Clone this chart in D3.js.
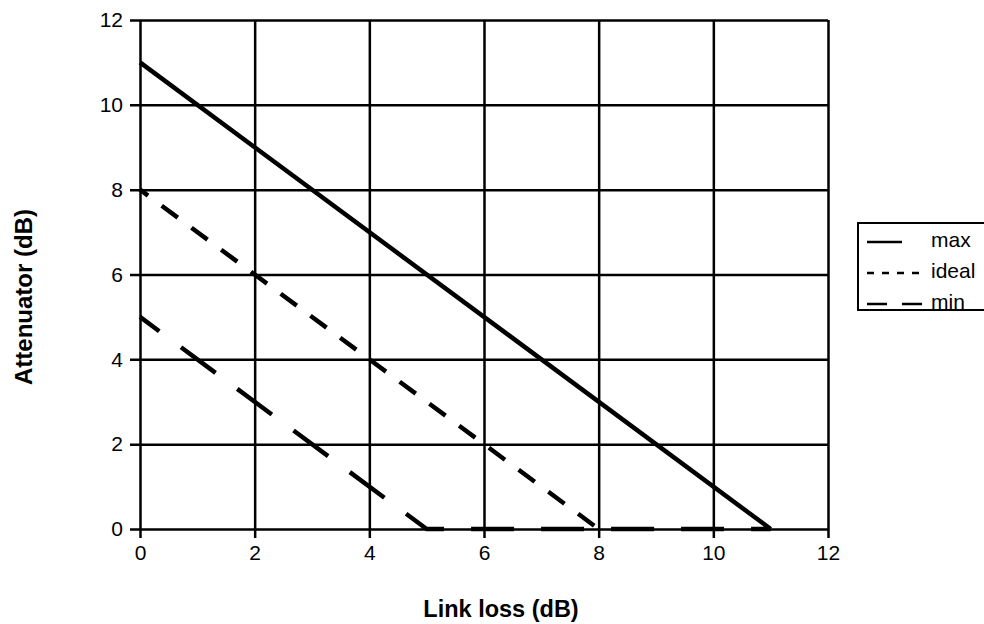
<!DOCTYPE html>
<html>
<head>
<meta charset="utf-8">
<script src="https://cdn.jsdelivr.net/npm/d3@7"></script>
<style>
	body { margin: 0; background: #fff; }
	svg { font-family: "Liberation Sans", Arial, sans-serif; }
</style>
</head>
<body>
<div id="chart"></div>
<script>
// data
const xTicks = [0, 2, 4, 6, 8, 10, 12];
const yTicks = [0, 2, 4, 6, 8, 10, 12];
const maxLine = [[0, 11], [11, 0]];
const idealLine = [[0, 8], [8, 0]];
const minLine = [[0, 5], [5, 0], [11, 0]];
const seriesNames = ["max", "ideal", "min"];

const width = 984, height = 624;
const margin = { left: 140, top: 20, right: 156, bottom: 95 };
const w = width - margin.left - margin.right;
const h = height - margin.top - margin.bottom;

const svg = d3.select("#chart")
	.append("svg")
	.attr("width", width)
	.attr("height", height);

const g = svg.append("g").attr("transform", `translate(${margin.left},${margin.top})`);

const xScale = d3.scaleLinear().domain([0, 12]).range([0, w]);
const yScale = d3.scaleLinear().domain([0, 12]).range([h, 0]);

// x axis: tick lines run all the way up and form the grid
const xAxis = d3.axisBottom(xScale).tickValues(xTicks).tickSize(-(h + 9)).tickPadding(7);
g.append("g")
	.attr("transform", `translate(0,${h + 9})`)
	.call(xAxis)
	.call((a) => a.select(".domain").remove());

const yAxis = d3.axisLeft(yScale).tickValues(yTicks).tickSize(-(w + 10)).tickPadding(7);
g.append("g")
	.attr("transform", "translate(-10,0)")
	.call(yAxis)
	.call((a) => a.select(".domain").remove());

g.selectAll(".tick line").attr("stroke", "#000").attr("stroke-width", 2.5);
g.selectAll(".tick text")
	.attr("fill", "#000")
	.attr("font-family", "'Liberation Sans', Arial, sans-serif")
	.attr("font-size", 21);

const line = d3.line()
	.x((d) => xScale(d[0]))
	.y((d) => yScale(d[1]));

const series = [
	{ data: maxLine, dash: null, offset: 0 },
	{ data: idealLine, dash: "20,17", offset: 10 },
	{ data: minLine, dash: "43,27", offset: 19 },
];

g.selectAll(".series")
	.data(series)
	.enter()
	.append("path")
	.attr("class", "series")
	.attr("d", (d) => line(d.data))
	.attr("fill", "none")
	.attr("stroke", "#000")
	.attr("stroke-width", 4.5)
	.attr("stroke-dasharray", (d) => d.dash)
	.attr("stroke-dashoffset", (d) => d.offset);

// axis titles
svg.append("text")
	.attr("x", 501)
	.attr("y", 617)
	.attr("text-anchor", "middle")
	.attr("font-size", 23.5)
	.attr("font-weight", "bold")
	.text("Link loss (dB)");

svg.append("text")
	.attr("transform", "translate(32,297) rotate(-90)")
	.attr("text-anchor", "middle")
	.attr("font-size", 24)
	.attr("font-weight", "bold")
	.text("Attenuator (dB)");

// legend
const legend = svg.append("g").attr("transform", "translate(858,223)");
legend.append("rect")
	.attr("width", 140)
	.attr("height", 87)
	.attr("fill", "none")
	.attr("stroke", "#000")
	.attr("stroke-width", 2);

const legendDash = [null, "7,8", "20,15"];
const items = legend.selectAll(".item")
	.data(seriesNames)
	.enter()
	.append("g")
	.attr("class", "item")
	.attr("transform", (d, i) => `translate(0,${19 + i * 31})`);

items.append("line")
	.attr("x1", 9)
	.attr("x2", (d, i) => (i === 0 ? 44 : 64))
	.attr("stroke", "#000")
	.attr("stroke-width", 2.5)
	.attr("stroke-dasharray", (d, i) => legendDash[i]);

items.append("text")
	.attr("x", 73)
	.attr("y", 5)
	.attr("font-size", 21)
	.text((d) => d);
</script>
</body>
</html>
